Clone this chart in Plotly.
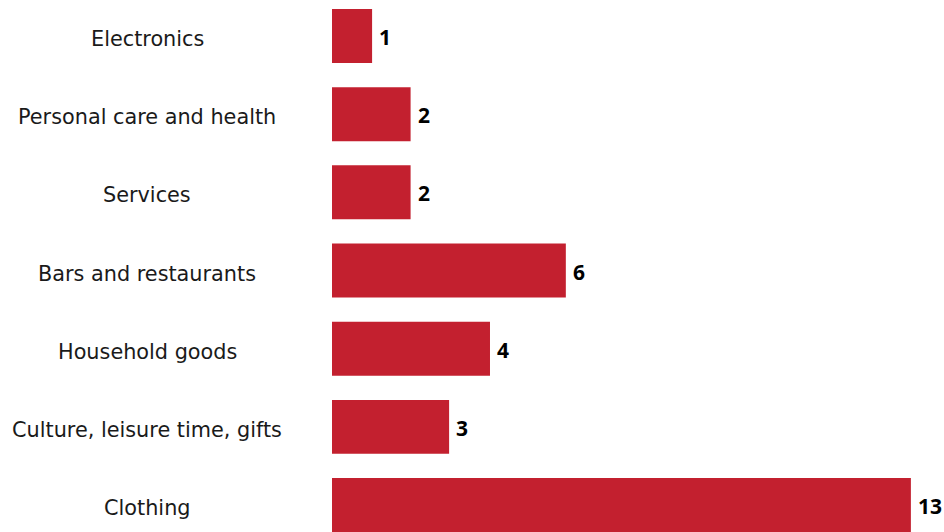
import plotly.graph_objects as go

categories = ["Electronics", "Personal care and health", "Services",
              "Bars and restaurants", "Household goods",
              "Culture, leisure time, gifts", "Clothing"]
values = [1.02, 2.0, 2.0, 5.95, 4.02, 2.98, 14.73]
value_labels = ["1", "2", "2", "6", "4", "3", "13"]

BAR = "#C3202F"
W, H = 944, 532
L = 332
plot_w = W - L
px_per_unit = 39.3

fig = go.Figure()
fig.add_trace(go.Bar(
    x=values, y=list(range(len(categories))), orientation="h",
    marker=dict(color=BAR, line=dict(width=0)), width=0.69,
    hoverinfo="skip", showlegend=False,
))

for i, (cat, v, lab) in enumerate(zip(categories, values, value_labels)):
    fig.add_annotation(x=(147 - L) / plot_w, xref="paper", y=i, yref="y",
                       text=cat, showarrow=False, xanchor="center", yanchor="middle",
                       yshift=-3,
                       font=dict(family="DejaVu Sans", size=20.8, color="#1a1a1a"))
    fig.add_annotation(x=v, xref="x", y=i, yref="y", text="<b>" + lab + "</b>",
                       showarrow=False, xanchor="left", yanchor="middle", xshift=5,
                       yshift=-1,
                       font=dict(family="Open Sans", size=21, color="#000000"))

fig.update_layout(
    width=W, height=H,
    margin=dict(l=L, r=0, t=0, b=0),
    paper_bgcolor="white", plot_bgcolor="white",
    xaxis=dict(range=[0, plot_w / px_per_unit], visible=False, fixedrange=True),
    yaxis=dict(range=[6.345, -0.4605], visible=False, fixedrange=True),
)
fig.write_html("out.html")
